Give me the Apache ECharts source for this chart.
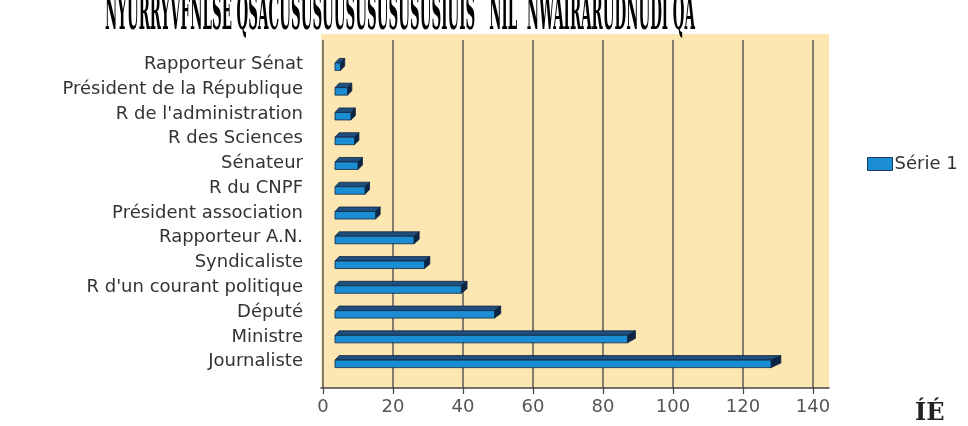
<!DOCTYPE html>
<html>
<head>
<meta charset="utf-8">
<script src="https://cdn.jsdelivr.net/npm/echarts@6/dist/echarts.min.js"></script>
<style>
  html, body { margin: 0; padding: 0; background: #fff; }
  #chart { width: 968px; height: 426px; }
</style>
</head>
<body>
<div id="chart"></div>
<script>
// categories, top to bottom as in the picture
const categories = [
  'Rapporteur Sénat',
  'Président de la République',
  "R de l'administration",
  'R des Sciences',
  'Sénateur',
  'R du CNPF',
  'Président association',
  'Rapporteur A.N.',
  'Syndicaliste',
  "R d'un courant politique",
  'Député',
  'Ministre',
  'Journaliste'
];
const serie1 = [5, 7, 8, 9, 10, 12, 15, 26, 29, 39.5, 49, 87, 128];
const xTicks = { min: 0, max: 140, interval: 20 };
const seriesName = 'Série 1';
const titleText = 'NYURRYVFNLSE QSACUSUSUUSUSUSUSUSIUIS   NIL  NWAIRARUDNUDI QA';
const cornerText = 'ÍÉ';

const FONT = '"DejaVu Sans", sans-serif';

// squeeze the title into the width it takes in the picture
const titleFont = 'bold 48px "DejaVu Serif Condensed", "DejaVu Serif", serif';
const ctx = document.createElement('canvas').getContext('2d');
ctx.font = titleFont;
const titleScale = 590 / ctx.measureText(titleText).width;

// 3D-looking bar: front face, top face and right side
function renderBar(params, api) {
  const v = api.value(0);
  const c = api.value(1);
  const p0 = api.coord([0, c]);
  const p1 = api.coord([v, c]);
  const x0 = p0[0] + 12;
  const x1 = p1[0];
  const y = p0[1];
  const fTop = y - 1.5, fBot = y + 6;
  const dy = 4.5;
  const dxL = 4 + (x0 - 323) * 0.013;
  const dxR = 4 + (x1 - 323) * 0.013;
  const stroke = '#10263f';
  return {
    type: 'group',
    children: [
      {
        type: 'polygon',
        shape: { points: [[x0, fTop], [x0 + dxL, fTop - dy], [x1 + dxR, fTop - dy], [x1, fTop]] },
        style: { fill: '#1f4f7e', stroke: stroke, lineWidth: 0.8 }
      },
      {
        type: 'polygon',
        shape: { points: [[x1, fTop], [x1 + dxR, fTop - dy], [x1 + dxR, fBot - dy], [x1, fBot]] },
        style: { fill: '#0c2446', stroke: stroke, lineWidth: 0.8 }
      },
      {
        type: 'rect',
        shape: { x: x0, y: fTop, width: x1 - x0, height: fBot - fTop },
        style: { fill: '#1b8dd3', stroke: stroke, lineWidth: 0.8 }
      }
    ]
  };
}

const chart = echarts.init(document.getElementById('chart'));

const option = {
  animation: false,
  backgroundColor: '#ffffff',
  graphic: [
    {
      type: 'text',
      x: 105,
      y: -7,
      scaleX: titleScale,
      style: { text: titleText, font: titleFont, fill: '#000', verticalAlign: 'top' }
    },
    {
      type: 'text',
      x: 915,
      y: 402,
      style: { text: cornerText, font: 'bold 24px "DejaVu Serif", serif', fill: '#222', verticalAlign: 'top' }
    }
  ],
  legend: {
    data: [{
      name: seriesName, icon: 'rect',
      itemStyle: { color: '#1b8dd3', borderColor: '#1a3a5e', borderWidth: 1 }
    }],
    left: 862,
    top: 150,
    itemWidth: 25,
    itemHeight: 13,
    itemGap: 4,
    textStyle: { fontFamily: FONT, fontSize: 18, color: '#333', padding: [0, 0, 0, -3] }
  },
  grid: [
    // back wall
    { left: 321, right: 139, top: 34, bottom: 38, show: true, backgroundColor: '#fce6b1', borderWidth: 0 },
    // value axis with grid lines
    { left: 323, right: 155, top: 40, bottom: 38 },
    // bars
    { left: 323, right: 155, top: 52, bottom: 52 }
  ],
  xAxis: [
    {
      gridIndex: 0, type: 'value', min: 0, max: 1,
      axisLine: { show: true, lineStyle: { color: '#444', width: 1.5 } },
      axisTick: { show: false }, axisLabel: { show: false }, splitLine: { show: false }
    },
    {
      gridIndex: 1, type: 'value', min: xTicks.min, max: xTicks.max, interval: xTicks.interval,
      axisLine: { show: false },
      axisTick: { show: true, length: 6, lineStyle: { color: '#444', width: 1.2 } },
      axisLabel: { fontFamily: FONT, fontSize: 18, color: '#555', margin: 10 },
      splitLine: { show: true, lineStyle: { color: '#5a5a5a', width: 1.5 } }
    },
    {
      gridIndex: 2, type: 'value', min: xTicks.min, max: xTicks.max, show: false
    }
  ],
  yAxis: [
    { gridIndex: 0, type: 'value', show: false },
    { gridIndex: 1, type: 'value', show: false },
    {
      gridIndex: 2, type: 'category', data: categories, inverse: true,
      axisLine: { show: false }, axisTick: { show: false },
      axisLabel: { fontFamily: FONT, fontSize: 18, color: '#333', margin: 20 }
    }
  ],
  series: [
    {
      name: seriesName,
      type: 'custom',
      xAxisIndex: 2,
      yAxisIndex: 2,
      renderItem: renderBar,
      itemStyle: { color: '#1b8dd3', borderColor: '#1a3a5e', borderWidth: 1 },
      encode: { x: 0, y: 1 },
      data: serie1.map((v, i) => [v, i])
    }
  ]
};

chart.setOption(option);
</script>
</body>
</html>
